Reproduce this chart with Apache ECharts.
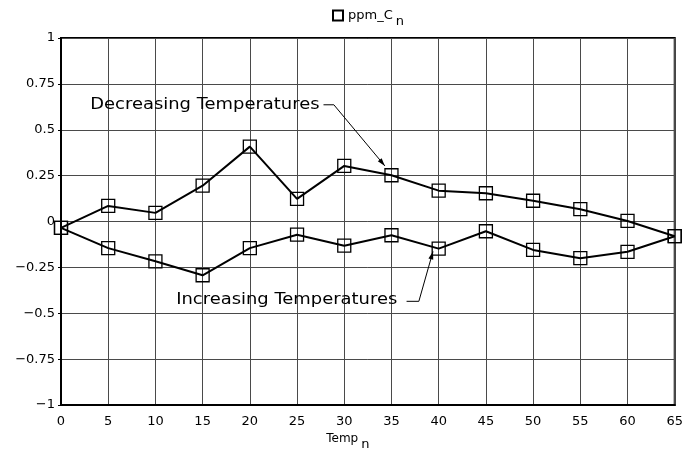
<!DOCTYPE html>
<html>
<head>
<meta charset="utf-8">
<script src="https://cdn.jsdelivr.net/npm/echarts@6/dist/echarts.min.js"></script>
<style>
  html, body { margin: 0; padding: 0; background: #fff; }
  #chart { width: 686px; height: 461px; }
</style>
</head>
<body>
<div id="chart"></div>
<script>
// temperatures (x axis)
var temps = [0, 5, 10, 15, 20, 25, 30, 35, 40, 45, 50, 55, 60, 65];
// ppm_C readings
var decreasing = [-0.035, 0.085, 0.047, 0.195, 0.408, 0.123, 0.303, 0.252, 0.168, 0.154, 0.113, 0.067, 0.003, -0.08];
var increasing = [-0.035, -0.145, -0.217, -0.293, -0.145, -0.072, -0.132, -0.075, -0.148, -0.053, -0.155, -0.2, -0.165, -0.08];
var yTicks = [-1, -0.75, -0.5, -0.25, 0, 0.25, 0.5, 0.75, 1];

var font = 'DejaVu Sans';

function pairs(vals) {
  return temps.map(function (t, i) { return [t, vals[i]]; });
}

var chartDom = document.getElementById('chart');
var myChart = echarts.init(chartDom);
var option;

var seriesBase = {
  type: 'line',
  name: 'ppm_C',
  symbol: 'rect',
  symbolSize: 13,
  showSymbol: true,
  animation: false,
  lineStyle: { color: '#000', width: 2 },
  itemStyle: { color: 'rgba(0,0,0,0)', borderColor: '#000', borderWidth: 1.3 },
  emphasis: { disabled: true }
};

option = {
  backgroundColor: '#fff',
  animation: false,
  legend: {
    top: 4,
    left: 327,
    icon: 'rect',
    itemWidth: 10,
    itemHeight: 10,
    itemGap: 4,
    data: ['ppm_C'],
    formatter: function (name) { return '{a|' + name + '}{b|n}'; },
    textStyle: {
      fontFamily: font,
      color: '#000',
      rich: {
        a: { fontFamily: font, fontSize: 13, color: '#000' },
        b: { fontFamily: font, fontSize: 13, color: '#000', padding: [12, 0, 0, 3] }
      }
    }
  },
  grid: {
    left: 61,
    right: 11,
    top: 38,
    bottom: 56,
    show: true,
    borderColor: '#000',
    borderWidth: 2,
    backgroundColor: 'transparent'
  },
  xAxis: {
    type: 'value',
    min: 0,
    max: 65,
    interval: 5,
    name: '{a|Temp}{b|n}',
    nameLocation: 'middle',
    nameGap: 21,
    nameTextStyle: {
      padding: [0, 40, 0, 0],
      rich: {
        a: { fontFamily: font, fontSize: 12, color: '#000' },
        b: { fontFamily: font, fontSize: 13, color: '#000', padding: [12, 0, 0, 3] }
      }
    },
    axisLine: { show: true, onZero: false, lineStyle: { color: '#000', width: 2 } },
    axisTick: { show: false },
    axisLabel: { fontFamily: font, fontSize: 13, color: '#000', margin: 10 },
    splitLine: { show: true, lineStyle: { color: '#4a4a4a', width: 1 } }
  },
  yAxis: {
    type: 'value',
    min: yTicks[0],
    max: yTicks[yTicks.length - 1],
    interval: 0.25,
    axisLine: { show: true, onZero: false, lineStyle: { color: '#000', width: 2 } },
    axisTick: { show: true, length: 3, lineStyle: { color: '#000' } },
    axisLabel: {
      fontFamily: font,
      fontSize: 13,
      color: '#000',
      margin: 6,
      formatter: function (v) { return String(v).replace('-', '\u2212'); }
    },
    splitLine: { show: true, lineStyle: { color: '#4a4a4a', width: 1 } }
  },
  series: [
    Object.assign({}, seriesBase, { data: pairs(decreasing) }),
    Object.assign({}, seriesBase, { data: pairs(increasing) })
  ]
};

option && myChart.setOption(option);

// callouts, anchored in data coordinates
var callouts = [
  { text: 'Decreasing Temperatures', at: [3.1, 0.636], dash: [[27.8, 0.636], [28.9, 0.636]], tip: [34.3, 0.303] },
  { text: 'Increasing Temperatures', at: [12.2, -0.427], dash: [[36.6, -0.435], [37.9, -0.435]], tip: [39.4, -0.163] }
];

var graphics = [];
callouts.forEach(function (c) {
  var p = myChart.convertToPixel({ gridIndex: 0 }, c.at);
  var d0 = myChart.convertToPixel({ gridIndex: 0 }, c.dash[0]);
  var d1 = myChart.convertToPixel({ gridIndex: 0 }, c.dash[1]);
  var tip = myChart.convertToPixel({ gridIndex: 0 }, c.tip);
  graphics.push({
    type: 'text',
    x: p[0],
    y: p[1],
    scaleX: 1.12,
    style: { text: c.text, fontFamily: font, fontSize: 16, fill: '#000', verticalAlign: 'middle' },
    z: 10
  });
  graphics.push({
    type: 'polyline',
    shape: { points: [d0, d1, tip] },
    style: { stroke: '#000', lineWidth: 1, fill: null },
    z: 10
  });
  var ang = Math.atan2(tip[1] - d1[1], tip[0] - d1[0]);
  var len = 8, half = 2.5;
  var bx = tip[0] - len * Math.cos(ang), by = tip[1] - len * Math.sin(ang);
  graphics.push({
    type: 'polygon',
    shape: {
      points: [
        tip,
        [bx - half * Math.sin(ang), by + half * Math.cos(ang)],
        [bx + half * Math.sin(ang), by - half * Math.cos(ang)]
      ]
    },
    style: { fill: '#000' },
    z: 10
  });
});
myChart.setOption({ graphic: graphics });
</script>
</body>
</html>
